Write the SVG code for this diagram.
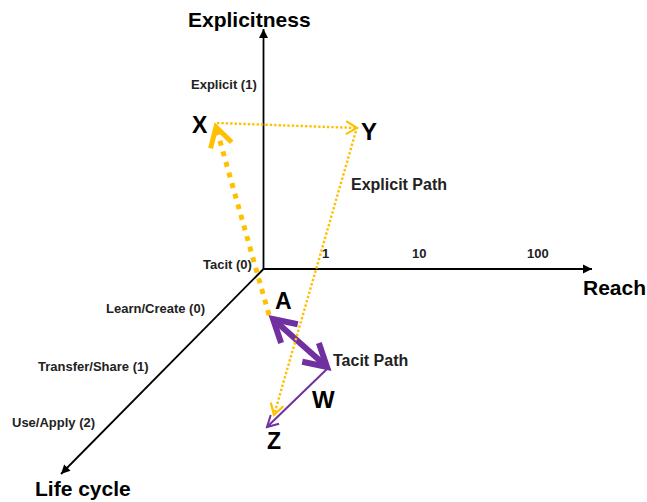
<svg xmlns="http://www.w3.org/2000/svg" width="647" height="502" viewBox="0 0 647 502">
<style>
text{font-family:"Liberation Sans",Arial,sans-serif;font-weight:bold;fill:#000}
.big{font-size:21px}
.pt{font-size:23px}
.sm{font-size:13px;fill:#222}
.mid{font-size:16px;fill:#222}
.axis{stroke:#000;stroke-width:1.8;fill:none}
.yt{stroke:#FFC000;stroke-width:2.4;stroke-dasharray:2.4 2;fill:none}
.yk{stroke:#FFC000;stroke-width:5;stroke-dasharray:5 6;fill:none}
.pk{stroke:#7030A0;stroke-width:6;fill:none}
.pn{stroke:#7030A0;stroke-width:2;fill:none}
</style>
<defs>
<marker id="ax" markerUnits="userSpaceOnUse" markerWidth="10" markerHeight="10" refX="0" refY="0" orient="auto" overflow="visible">
<path d="M0,0 L-9,-4.5 L-9,4.5 Z" fill="#000"/>
</marker>
<marker id="yThin" markerUnits="userSpaceOnUse" markerWidth="12" markerHeight="14" refX="0" refY="0" orient="auto" overflow="visible">
<path d="M-11,-6.5 L0,0 L-11,6.5" fill="none" stroke="#FFC000" stroke-width="2.2"/>
</marker>
<marker id="yThick" markerUnits="userSpaceOnUse" markerWidth="22" markerHeight="24" refX="0" refY="0" orient="auto" overflow="visible">
<path d="M-19,-11 L0,0 L-19,11" fill="none" stroke="#FFC000" stroke-width="5"/>
</marker>
<marker id="pThick" markerUnits="userSpaceOnUse" markerWidth="24" markerHeight="28" refX="0" refY="0" orient="auto-start-reverse" overflow="visible">
<path d="M-22,-12.5 L0,0 L-22,12.5" fill="none" stroke="#7030A0" stroke-width="6"/>
</marker>
<marker id="pThin" markerUnits="userSpaceOnUse" markerWidth="12" markerHeight="14" refX="0" refY="0" orient="auto" overflow="visible">
<path d="M-11,-6 L0,0 L-11,6" fill="none" stroke="#7030A0" stroke-width="2"/>
</marker>
</defs>
<rect width="647" height="502" fill="#fff"/>

<g id="axes">
<line class="axis" x1="263.5" y1="269" x2="263.5" y2="29" marker-end="url(#ax)"/>
<line class="axis" x1="263.5" y1="269" x2="592" y2="269" marker-end="url(#ax)"/>
<line class="axis" x1="263.5" y1="269" x2="61" y2="474" marker-end="url(#ax)"/>
</g>

<g id="connectors">
<line class="pk" x1="273" y1="319" x2="327" y2="367" marker-start="url(#pThick)" marker-end="url(#pThick)"/>
<line class="pn" x1="328" y1="368" x2="267" y2="427" marker-end="url(#pThin)"/>
<line class="yk" x1="269" y1="315" x2="216" y2="127" marker-end="url(#yThick)"/>
<line class="yt" x1="217" y1="123" x2="357" y2="128" marker-end="url(#yThin)"/>
<line class="yt" x1="356" y1="131" x2="274" y2="415" marker-end="url(#yThin)"/>
</g>

<g id="axis-labels">
<text class="big" x="188" y="27">Explicitness</text>
<text class="big" x="583" y="295">Reach</text>
<text class="big" x="35" y="496">Life cycle</text>
<text class="sm" x="191" y="89">Explicit (1)</text>
<text class="sm" x="203" y="269">Tacit (0)</text>
<text class="sm" x="322" y="258">1</text>
<text class="sm" x="412" y="258">10</text>
<text class="sm" x="527" y="258">100</text>
<text class="sm" x="106" y="313">Learn/Create (0)</text>
<text class="sm" x="38" y="371">Transfer/Share (1)</text>
<text class="sm" x="12" y="427">Use/Apply (2)</text>
</g>

<g id="node-X"><text class="pt" x="192" y="133">X</text></g>
<g id="node-Y"><text class="pt" x="361" y="140" style="font-size:24px">Y</text></g>
<g id="node-A"><text class="pt" x="275" y="309">A</text></g>
<g id="node-W"><text class="pt" x="312" y="408" style="font-size:24px">W</text></g>
<g id="node-Z"><text class="pt" x="267" y="449">Z</text></g>
<g id="label-explicit-path"><text class="mid" x="351" y="190">Explicit Path</text></g>
<g id="label-tacit-path"><text class="mid" x="333" y="366">Tacit Path</text></g>
</svg>
